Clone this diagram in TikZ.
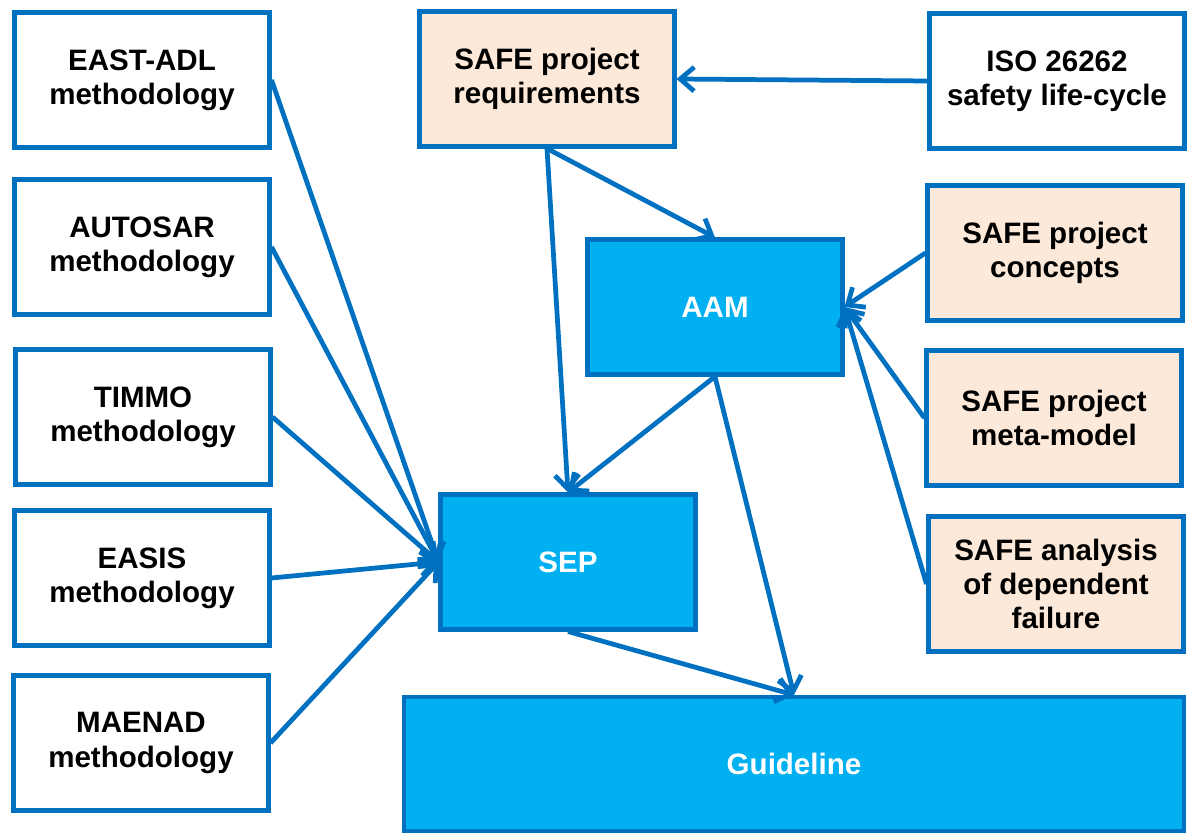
\documentclass[tikz,border=0pt]{standalone}
\usepackage{fontspec}
\setmainfont{Liberation Sans}
\usetikzlibrary{arrows.meta}
\definecolor{edgeblue}{HTML}{0070C0}
\definecolor{boxcyan}{HTML}{00B0F0}
\definecolor{boxpeach}{HTML}{FDE9D9}
\begin{document}
\begin{tikzpicture}[font=\fontsize{8.4}{9.7}\selectfont\bfseries,
		method/.style={draw=edgeblue, line width=1.15pt, fill=white, align=center,
			minimum width=2.55cm, minimum height=1.35cm, inner sep=0pt},
		safebox/.style={method, fill=boxpeach},
		mainbox/.style={method, fill=boxcyan, text=white},
		flow/.style={draw=edgeblue, line width=1.35pt, -{Straight Barb[length=1.4mm,width=2.4mm]}}]
		\useasboundingbox (0,0) rectangle (11.88,-8.35);
		
		% Left column: methodologies
		\node[method] (eastadl) at (1.42,-0.80) {EAST-ADL\\methodology};
		\node[method] (autosar) at (1.42,-2.47) {AUTOSAR\\methodology};
		\node[method] (timmo) at (1.43,-4.17) {TIMMO\\methodology};
		\node[method] (easis) at (1.42,-5.78) {EASIS\\methodology};
		\node[method] (maenad) at (1.41,-7.43) {MAENAD\\methodology};
		
		% Middle column
		\node[safebox] (req) at (5.47,-0.79) {SAFE project\\requirements};
		\node[mainbox] (aam) at (7.15,-3.07) {AAM};
		\node[mainbox] (sep) at (5.68,-5.62) {SEP};
		\node[mainbox, minimum width=7.80cm, minimum height=1.34cm] (guide) at (7.94,-7.64) {Guideline};
		
		% Right column
		\node[method] (iso) at (10.57,-0.81) {ISO 26262\\safety life-cycle};
		\node[safebox] (concepts) at (10.55,-2.53) {SAFE project\\concepts};
		\node[safebox] (meta) at (10.54,-4.18) {SAFE project\\meta-model};
		\node[safebox] (depfail) at (10.56,-5.84) {SAFE analysis\\of dependent\\failure};
		
		% Methodologies into SEP
		\foreach \m in {eastadl,autosar,timmo,easis,maenad}
			\draw[flow] (\m.east) -- (sep.west);
		
		% Requirements and AAM
		\draw[flow] (iso.west) -- (req.east);
		\draw[flow] (req.south) -- (sep.north);
		\draw[flow] (req.south) -- (aam.north);
		\draw[flow] (aam.south) -- (sep.north);
		\draw[flow] (aam.south) -- (guide.north);
		\draw[flow] (sep.south) -- (guide.north);
		
		% SAFE inputs into AAM
		\draw[flow] (concepts.west) -- (aam.east);
		\draw[flow] (meta.west) -- (aam.east);
		\draw[flow] (depfail.west) -- (aam.east);
		
	\end{tikzpicture}
\end{document}
